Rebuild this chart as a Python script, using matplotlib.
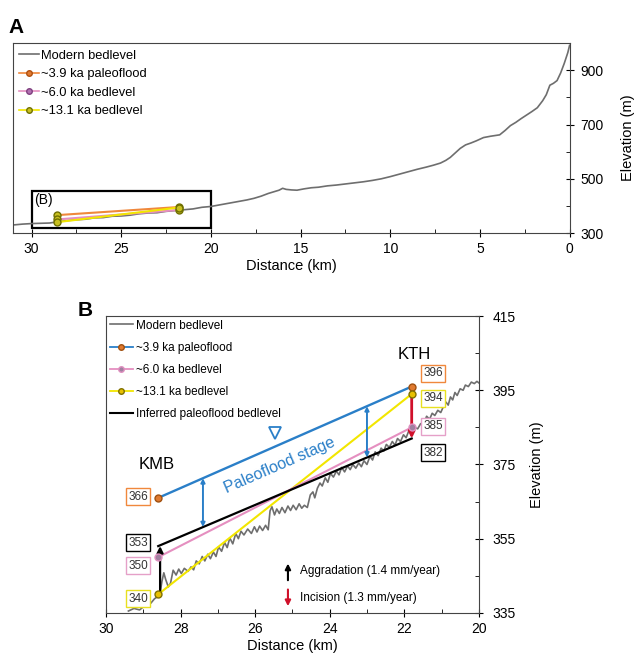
import matplotlib
matplotlib.use("Agg")
import matplotlib.pyplot as plt
from matplotlib.lines import Line2D
from matplotlib.patches import Rectangle

plt.rcParams['font.family'] = ['Liberation Sans', 'DejaVu Sans']

# --- datos: perfil completo (panel A) ---
dist_a = [31.0, 30.5, 30.0, 29.5, 29.0, 28.5, 28.0, 27.5, 27.0, 26.5, 26.0, 25.5, 25.0,
          24.5, 24.0, 23.5, 23.0, 22.5, 22.0, 21.5, 21.0, 20.5, 20.0, 19.5, 19.0, 18.5,
          18.0, 17.6, 17.2, 16.8, 16.5, 16.2, 16.0, 15.8, 15.5, 15.2, 14.8, 14.4, 14.0,
          13.5, 13.0, 12.5, 12.0, 11.5, 11.0, 10.5, 10.0, 9.5, 9.0, 8.5, 8.0, 7.6, 7.2,
          6.9, 6.65, 6.4, 6.1, 5.8, 5.5, 5.2, 4.8, 4.4, 3.9, 3.6, 3.3, 3.0, 2.7, 2.4,
          2.1, 1.8, 1.5, 1.3, 1.1, 0.9, 0.7, 0.5, 0.3, 0.1, 0.0]
elev_a = [330, 333, 335, 336, 337, 342, 346, 349, 351, 356, 357, 362, 363,
          366, 371, 374, 375, 380, 383, 386, 389, 395, 398, 404, 410, 416,
          422, 428, 436, 446, 452, 458, 465, 461, 459, 458, 463, 467, 469,
          474, 477, 481, 485, 489, 494, 500, 508, 517, 526, 535, 543, 550, 558,
          568, 579, 594, 612, 625, 632, 640, 652, 657, 662, 678, 696, 708, 722, 735,
          748, 762, 788, 810, 845, 852, 862, 890, 925, 965, 992]

# --- datos: perfil de detalle (panel B) ---
dist_b = [29.4, 29.25, 29.1, 28.95, 28.8, 28.7, 28.6, 28.55, 28.5, 28.45, 28.4, 28.33,
          28.27, 28.2, 28.12, 28.05, 27.98, 27.9, 27.8, 27.72, 27.65, 27.58, 27.5, 27.42,
          27.35, 27.27, 27.2, 27.12, 27.05, 26.98, 26.9, 26.82, 26.75, 26.68, 26.6, 26.52,
          26.45, 26.38, 26.3, 26.2, 26.1, 26.02, 25.95, 25.88, 25.8, 25.72, 25.65, 25.6,
          25.55, 25.48, 25.42, 25.35, 25.28, 25.2, 25.12, 25.05, 24.98, 24.9, 24.82, 24.75,
          24.68, 24.6, 24.52, 24.45, 24.4, 24.33, 24.26, 24.2, 24.12, 24.05, 23.98, 23.9,
          23.82, 23.75, 23.68, 23.6, 23.52, 23.45, 23.38, 23.3, 23.22, 23.15, 23.08, 23.0,
          22.92, 22.85, 22.78, 22.7, 22.62, 22.55, 22.48, 22.4, 22.32, 22.25, 22.18, 22.1,
          22.02, 21.95, 21.88, 21.8, 21.72, 21.64, 21.56, 21.48, 21.4, 21.32, 21.25, 21.18,
          21.1, 21.02, 20.95, 20.88, 20.82, 20.76, 20.7, 20.64, 20.58, 20.5, 20.42, 20.36,
          20.28, 20.2, 20.12, 20.05, 20.0]
elev_b = [335.5, 336.2, 335.8, 337.0, 337.6, 338.8, 339.5, 340.4, 343.5, 345.8, 344.0, 342.0,
          343.0, 346.5, 345.2, 346.8, 345.6, 347.0, 346.2, 347.4, 346.6, 349.0, 348.2, 350.2,
          349.0, 350.8, 349.6, 351.4, 350.2, 352.8, 351.6, 354.0, 352.6, 355.2, 353.6, 356.4,
          355.0, 357.0, 356.0, 357.6, 356.4, 358.2, 356.8, 358.4, 357.2, 358.6, 357.4, 362.5,
          363.6, 361.4, 363.0, 361.8, 363.4, 362.0, 363.8, 362.6, 364.0, 362.8, 364.4, 363.2,
          364.0, 363.4, 366.8, 367.6, 366.0, 368.6, 370.0, 369.2, 371.4, 370.2, 372.6, 371.6,
          373.2, 372.2, 374.2, 373.0, 374.6, 373.6, 375.0, 374.0, 375.4, 374.4, 376.0, 375.0,
          377.2, 376.2, 378.4, 377.4, 379.4, 378.6, 380.4, 379.6, 381.2, 380.2, 382.0, 381.2,
          383.0, 382.2, 384.0, 383.6, 385.0, 384.6, 386.0, 385.8, 388.0, 387.2, 388.8, 388.2,
          389.6, 389.0, 390.6, 391.8, 391.0, 393.2, 392.4, 394.4, 393.6, 395.4, 395.0, 396.4,
          396.0, 397.2, 396.8, 397.4, 397.0]

# sitios KMB y KTH
sitios_x = [28.6, 21.8]
paleoflood_39 = [366, 396]
bedlevel_60 = [350, 385]
bedlevel_131 = [340, 394]
inferido = [353, 382]

c_gris = '#6e6e6e'
c_naranja = '#f0883c'
c_rosa = '#e58fc0'
c_amarillo = '#f2e600'
c_azul = '#2a7fc8'
c_rojo = '#d0102a'

fig = plt.figure(figsize=(6.35, 6.64), dpi=100)

# ================= Panel A =================
ax1 = fig.add_axes([0.020, 0.649, 0.877, 0.286])
ax1.plot(dist_a, elev_a, color=c_gris, lw=1.2)
ax1.plot(sitios_x, paleoflood_39, color=c_naranja, lw=1.5, marker='o', ms=5,
         mfc='#c8c020', mec='#707000')
ax1.plot(sitios_x, bedlevel_60, color=c_rosa, lw=1.5, marker='o', ms=5,
         mfc='#c8c020', mec='#707000')
ax1.plot(sitios_x, bedlevel_131, color=c_amarillo, lw=1.5, marker='o', ms=5,
         mfc='#c8c020', mec='#707000')
ax1.add_patch(Rectangle((20, 318), 10, 136, fill=False, ec='black', lw=1.6))
ax1.text(29.85, 448, '(B)', fontsize=10, va='top', ha='left')

ax1.set_xlim(31.05, 0)
ax1.set_ylim(300, 1000)
ax1.set_xticks([30, 25, 20, 15, 10, 5, 0])
ax1.set_xticks([27.5, 22.5, 17.5, 12.5, 7.5, 2.5], minor=True)
ax1.set_yticks([300, 500, 700, 900])
ax1.set_yticks([400, 600, 800], minor=True)
ax1.yaxis.tick_right()
ax1.yaxis.set_label_position('right')
ax1.tick_params(axis='both', which='major', direction='inout', length=6, labelsize=10)
ax1.tick_params(axis='y', which='major', pad=5)
ax1.tick_params(axis='both', which='minor', direction='in', length=3)
ax1.set_xlabel('Distance (km)', fontsize=10.5, labelpad=2)
ax1.set_ylabel('Elevation (m)', fontsize=10.5, labelpad=12)
for s in ax1.spines.values():
    s.set_color('#444444')

h_a = [Line2D([], [], color=c_gris, lw=1.2),
       Line2D([], [], color=c_naranja, lw=1.2, marker='o', ms=4, mfc='#e07a30', mec='#b05010'),
       Line2D([], [], color=c_rosa, lw=1.2, marker='o', ms=4, mfc='#b070b0', mec='#804080'),
       Line2D([], [], color=c_amarillo, lw=1.2, marker='o', ms=4, mfc='#c8c020', mec='#707000')]
ax1.legend(h_a, ['Modern bedlevel', '~3.9 ka paleoflood', '~6.0 ka bedlevel', '~13.1 ka bedlevel'],
           loc='upper left', frameon=False, fontsize=9.3, handlelength=1.5,
           handletextpad=0.2, labelspacing=0.5, borderaxespad=0.2, borderpad=0.3)

# ================= Panel B =================
ax2 = fig.add_axes([0.167, 0.077, 0.587, 0.447])
ax2.plot(dist_b, elev_b, color=c_gris, lw=1.2, zorder=2)
ax2.plot(sitios_x, bedlevel_131, color=c_amarillo, lw=1.5, zorder=3)
ax2.plot(sitios_x, bedlevel_60, color=c_rosa, lw=1.5, zorder=3)
ax2.plot(sitios_x, inferido, color='black', lw=1.6, zorder=4)
ax2.plot(sitios_x, paleoflood_39, color=c_azul, lw=1.7, zorder=4)
ax2.plot(sitios_x, paleoflood_39, ls='none', marker='o', ms=5, mfc='#e07a30', mec='#a05010', zorder=6)
ax2.plot(sitios_x, bedlevel_60, ls='none', marker='o', ms=5, mfc='#a080a0', mec='#e090c0', zorder=6)
ax2.plot(sitios_x, bedlevel_131, ls='none', marker='o', ms=5, mfc='#e8c000', mec='#807000', zorder=6)

# flechas de nivel de crecida
for xa in [27.4, 23.0]:
    y_top = paleoflood_39[0] + (sitios_x[0] - xa) / (sitios_x[0] - sitios_x[1]) * (paleoflood_39[1] - paleoflood_39[0])
    y_bot = inferido[0] + (sitios_x[0] - xa) / (sitios_x[0] - sitios_x[1]) * (inferido[1] - inferido[0])
    ax2.annotate('', xy=(xa, y_top), xytext=(xa, y_bot),
                 arrowprops=dict(arrowstyle='<|-|>', color=c_azul, lw=1.4,
                                 mutation_scale=6, shrinkA=0, shrinkB=0), zorder=5)

ax2.annotate('', xy=(28.55, 353), xytext=(28.55, 340),
             arrowprops=dict(arrowstyle='-|>', color='black', lw=1.6,
                             mutation_scale=9, shrinkA=0, shrinkB=0), zorder=5)
ax2.annotate('', xy=(21.8, 382), xytext=(21.8, 394),
             arrowprops=dict(arrowstyle='-|>', color=c_rojo, lw=2.0,
                             mutation_scale=9, shrinkA=0, shrinkB=0), zorder=5)

ax2.plot([25.47], [383.5], marker='v', ms=9, mfc='none', mec=c_azul, mew=1.3, ls='none')
ax2.text(25.33, 374.7, 'Paleoflood stage', color=c_azul, fontsize=11.5,
         rotation=23.5, ha='center', va='center', rotation_mode='anchor')
ax2.text(28.63, 375, 'KMB', fontsize=12, ha='center', va='center')
ax2.text(21.72, 404.7, 'KTH', fontsize=12, ha='center', va='center')

cajas = [(29.14, 366.3, '366', '#f0883c'), (29.14, 353.9, '353', 'black'),
         (29.14, 347.7, '350', '#e5a0c8'), (29.14, 338.8, '340', '#e8e020'),
         (21.23, 399.6, '396', '#f0883c'), (21.23, 392.8, '394', '#e8e020'),
         (21.23, 385.3, '385', '#e5a0c8'), (21.23, 378.2, '382', 'black')]
for xc, yc, txt, ec in cajas:
    ax2.text(xc, yc, txt, fontsize=8.5, color='#333333', ha='center', va='center', zorder=7,
             bbox=dict(boxstyle='square,pad=0.2', fc='white', ec=ec, lw=1.0))

ax2.annotate('', xy=(25.12, 348.3), xytext=(25.12, 343.8),
             arrowprops=dict(arrowstyle='-|>', color='black', lw=1.5,
                             mutation_scale=8, shrinkA=0, shrinkB=0))
ax2.annotate('', xy=(25.12, 336.8), xytext=(25.12, 341.3),
             arrowprops=dict(arrowstyle='-|>', color=c_rojo, lw=1.5,
                             mutation_scale=8, shrinkA=0, shrinkB=0))
ax2.text(24.8, 346.2, 'Aggradation (1.4 mm/year)', fontsize=8.5, va='center', ha='left')
ax2.text(24.8, 339.0, 'Incision (1.3 mm/year)', fontsize=8.5, va='center', ha='left')

ax2.set_xlim(30, 20)
ax2.set_ylim(335, 415)
ax2.set_xticks([30, 28, 26, 24, 22, 20])
ax2.set_xticks([29, 27, 25, 23, 21], minor=True)
ax2.set_yticks([335, 355, 375, 395, 415])
ax2.set_yticks([345, 365, 385, 405], minor=True)
ax2.yaxis.tick_right()
ax2.yaxis.set_label_position('right')
ax2.tick_params(axis='both', which='major', direction='inout', length=6, labelsize=10)
ax2.tick_params(axis='y', which='major', pad=7)
ax2.tick_params(axis='both', which='minor', direction='in', length=3)
ax2.set_xlabel('Distance (km)', fontsize=10.5, labelpad=2)
ax2.set_ylabel('Elevation (m)', fontsize=10.5, labelpad=10)
for s in ax2.spines.values():
    s.set_color('#444444')

h_b = [Line2D([], [], color=c_gris, lw=1.2),
       Line2D([], [], color=c_azul, lw=1.3, marker='o', ms=4, mfc='#e07a30', mec='#a05010'),
       Line2D([], [], color=c_rosa, lw=1.3, marker='o', ms=4, mfc='#a080a0', mec='#e090c0'),
       Line2D([], [], color=c_amarillo, lw=1.3, marker='o', ms=4, mfc='#e8c000', mec='#807000'),
       Line2D([], [], color='black', lw=1.5)]
ax2.legend(h_b, ['Modern bedlevel', '~3.9 ka paleoflood', '~6.0 ka bedlevel',
                 '~13.1 ka bedlevel', 'Inferred paleoflood bedlevel'],
           loc='upper left', frameon=False, fontsize=8.5, handlelength=2.0,
           handletextpad=0.2, labelspacing=0.85, borderaxespad=0.1, borderpad=0.2)

fig.text(0.013, 0.958, 'A', fontsize=15, fontweight='bold', ha='left', va='center')
fig.text(0.122, 0.533, 'B', fontsize=15, fontweight='bold', ha='left', va='center')

fig.savefig('out.png', dpi=100)
